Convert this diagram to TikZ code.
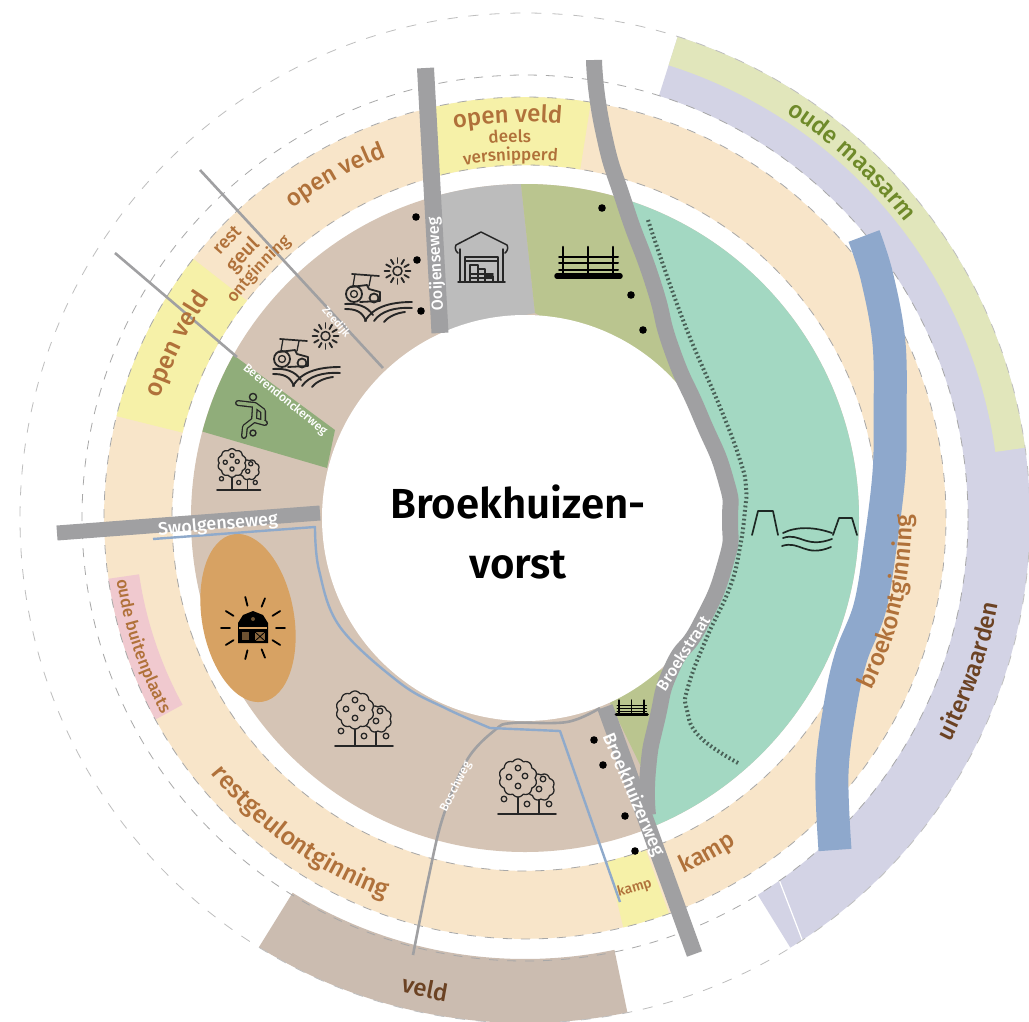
\documentclass[tikz,border=0pt]{standalone}
\usepackage{fontspec}
\setmainfont{Fira Sans Medium}[BoldFont={Fira Sans SemiBold}]
\usetikzlibrary{decorations.text}
\definecolor{cBrown}{HTML}{D5C4B5}
\definecolor{cPeach}{HTML}{F8E5C9}
\definecolor{cYellow}{HTML}{F6F1A8}
\definecolor{cPink}{HTML}{F0C9CF}
\definecolor{cLav}{HTML}{D3D3E5}
\definecolor{cMaas}{HTML}{E1E6BB}
\definecolor{cVeld}{HTML}{CBBCB0}
\definecolor{cTeal}{HTML}{A3D8C2}
\definecolor{cOlive}{HTML}{BAC58F}
\definecolor{cGray}{HTML}{BCBCBC}
\definecolor{cGreen}{HTML}{90AD7A}
\definecolor{cOrange}{HTML}{D7A263}
\definecolor{cRoad}{HTML}{A0A0A2}
\definecolor{cRiver}{HTML}{8EA8CC}
\definecolor{cBlue}{HTML}{8FAACB}
\definecolor{cDash}{HTML}{A8A8A8}
\definecolor{cTxt}{HTML}{B0713A}
\definecolor{cDark}{HTML}{6B4223}
\definecolor{cMaasT}{HTML}{6F8A2A}
\definecolor{cIcon}{HTML}{262626}
\def\cx{525}\def\cy{518}
\tikzset{
 ringdash/.style={cDash,line width=0.8pt,dash pattern=on 9pt off 9pt},
 road/.style={cRoad,line width=#1},
 icon/.style={cIcon,line width=1.3pt,line cap=round,line join=round},
 roadlabel/.style={text=white,inner sep=0pt,font=\fontsize{#1}{#1}\selectfont},
 dikeicon/.style={black!70!cTeal!60!black,line width=1.7pt,line cap=round,line join=round}
}
\newcommand{\ringsec}[5]{\fill[#1] plot[domain=#4:#5,samples=100] ({\cx+#3*cos(\x)},{\cy+#3*sin(\x)}) -- plot[domain=#5:#4,samples=100] ({\cx+#2*cos(\x)},{\cy+#2*sin(\x)}) -- cycle;}
\newcommand{\arctext}[6]{\path[decorate,decoration={text along path,text align=center,text={|\fontsize{#4}{#4}\selectfont\color{#5}|#6}}] ({\cx+#3*cos(#1)},{\cy+#3*sin(#1)}) arc[start angle={-(#1)},end angle={-(#2)},radius=#3pt];}
\newcommand{\treeicon}[3]{\begin{scope}[shift={(#1,#2)},scale=#3,icon]
 \draw[fill=cBrown] plot[domain=0:360,samples=140] ({43+(12+1.6*abs(sin(4*\x)))*cos(\x)},{29+(12+1.6*abs(sin(4*\x)))*sin(\x)}) -- cycle;
 \draw[fill=cBrown] plot[domain=0:360,samples=180] ({20+(17+2*abs(sin(5*\x)))*cos(\x)},{20+(17+2*abs(sin(5*\x)))*sin(\x)}) -- cycle;
 \foreach \a/\b in {20/10,11/19,27/18,20/28,45/21,41/31,6/41,29/46,51/46}{\draw (\a,\b) circle[radius=2.8pt];}
 \draw (20,39) -- (20,55) (41,42) -- (41,55);
 \draw[line width=1.6pt] (0,56) -- (58,56);
\end{scope}}
\newcommand{\tractoricon}[2]{\begin{scope}[shift={(#1,#2)},icon]
 \draw[line width=1.7pt] (7,1) -- (34,3);
 \draw (10,1) -- (8,13) (26,3) -- (24,13);
 \draw[line width=1.8pt] (6,14) -- (22,12) -- (24,16) -- (35,19) -- (35,28) -- (15,29);
 \draw[line width=1.8pt] (9,21) circle[radius=8pt];
 \draw (9,21) circle[radius=3.5pt];
 \draw[line width=1.8pt] (29,25) circle[radius=4.5pt];
 \draw[line width=1.9pt] (0,31) .. controls (12,30) and (22,33) .. (28,42);
 \draw[line width=1.9pt] (0,36) .. controls (10,36) and (17,38) .. (21,48);
 \draw[line width=1.9pt] (20,48) .. controls (28,34) and (45,29) .. (67,29);
 \draw[line width=1.9pt] (29,48) .. controls (36,38) and (50,34) .. (67,35);
 \draw[line width=1.9pt] (39,49) .. controls (44,43) and (52,40) .. (60,39);
 \draw[line width=1.5pt] (52.5,-2) circle[radius=4.5pt];
 \foreach \t in {0,30,...,330}{\draw[line width=1.9pt] ({52.5+8*cos(\t)},{-2+8*sin(\t)}) -- ({52.5+13*cos(\t)},{-2+13*sin(\t)});}
\end{scope}}
\newcommand{\fenceicon}[3]{\begin{scope}[shift={(#1,#2)},scale=#3,line cap=round]
 \foreach \a in {8,33,58}{\draw[black,line width=#3*2.6pt] (\a,0) -- (\a,28);}
 \foreach \b in {10,16,23}{\draw[black,line width=#3*2pt] (4,\b) -- (63,\b);}
 \draw[black,line width=#3*5.5pt] (2,29) -- (65,29);
\end{scope}}
\begin{document}
\begin{tikzpicture}[x=1pt,y=-1pt]
\useasboundingbox (0,0) rectangle (1029,1021);
\fill[white] (0,0) rectangle (1029,1021);
% peach ring
\ringsec{cPeach}{353}{421}{0}{360}
\ringsec{cYellow}{353}{421}{-104}{-81}
\ringsec{cYellow}{353}{421}{-166}{-142}
\ringsec{cYellow}{353}{421}{70}{76.5}
\ringsec{cPink}{390}{421}{151.4}{171.7}
\draw[ringdash] (\cx,\cy) circle[radius=353pt];
\draw[ringdash] (\cx,\cy) circle[radius=421pt];
% outer bands
\ringsec{cLav}{443}{505}{-72.4}{58.3}
\ringsec{cMaas}{475}{505}{-72.4}{-8}
\ringsec{cVeld}{441}{505}{78.3}{121.8}
\coordinate (gapA) at (778,877);
\coordinate (gapB) at (803,942);
\draw[white,line width=1.2pt] (gapA) -- (gapB);
\draw[ringdash] (\cx,\cy) circle[radius=443pt];
\draw[cDash!75!white,line width=0.8pt,dash pattern=on 10pt off 11pt] (\cx,\cy) circle[radius=505pt];
% river
\draw[cRiver,line width=33pt] plot[smooth,tension=0.6] coordinates {(864,236) (877,277) (889,343) (890,420) (889,473) (881,540) (870,607) (851,657) (840,707) (832,773) (835,850)};
% inner ring
\fill[cBrown] (\cx,\cy) circle[radius=334pt];
\fill[cGray] plot[domain=-107:-90.7,samples=30] ({\cx+334*cos(\x)},{\cy+334*sin(\x)}) -- (535,313) -- (440,333) -- cycle;
\fill[cOlive] plot[domain=-90.7:-73,samples=30] ({\cx+334*cos(\x)},{\cy+334*sin(\x)}) -- (653,283) -- (672,350) -- (690,400) -- (535,313) -- cycle;
\fill[cTeal] plot[smooth,tension=1] coordinates {(625,205) (653,283) (672,350) (700,415) (725,477) (730,520) (725,565) (700,625) (672,668) (657,720) (648,770) (648,815)} -- plot[domain=68:-73,samples=100] ({\cx+334*cos(\x)},{\cy+334*sin(\x)}) -- cycle;
\fill[cOlive] (667,667) -- (640,680) -- (610,703) -- (645,775) -- (661,700) -- cycle;
\fill[cGreen] plot[domain=-150.8:-165,samples=20] ({\cx+334*cos(\x)},{\cy+334*sin(\x)}) -- (327,468) -- (335,430) -- cycle;
\fill[white] (\cx,\cy) circle[radius=203pt];
\fill[cOrange,shift={(248,618)},rotate=10] (0,0) ellipse[x radius=46pt,y radius=85pt];
% dike dashes
\draw[black!55!cTeal,line width=4pt,dash pattern=on 1.8pt off 2.6pt] plot[smooth,tension=0.8] coordinates {(648,220) (683,320) (720,407) (740,460) (746,487) (745,510) (740,547) (730,587) (707,637) (688,687) (687,710) (700,737) (738,763)};
% roads
\draw[road=17pt] (425.5,68) -- (440,333);
\draw[road=16pt] (605,707) -- (694.5,954);
\draw[road=16pt] plot[smooth,tension=1] coordinates {(594,60) (603,130) (625,205) (653,283) (672,350) (700,415) (725,477) (730,520) (725,565) (700,625) (672,668) (657,720) (648,770) (648,815)};
\draw[road=15pt] (57,533) -- (320,513);
\draw[road=2.6pt] (115,253) -- (237,357);
\draw[road=2.6pt] (200,170) -- (383,368);
\draw[road=2.6pt] plot[smooth,tension=0.6] coordinates {(413,955) (428,880) (443,817) (467,760) (495,730) (512,723) (567,722) (600,708)};
% blue line
\draw[cBlue,line width=2.4pt,line join=round] (153,539) -- (315,527) -- plot[smooth,tension=0.6] coordinates {(315,527) (319,570) (340,627) (400,683) (445,708) (490,728)} -- (560,731) -- (620,902);
% dots
\foreach \a/\b in {416/217,417/260,421/311,602/208,631/295,643/330,594/740,603/765,625/816,635/851}{\fill[black] (\a,\b) circle[radius=3.8pt];}
% ring labels
\arctext{-131}{-107}{387}{24}{cTxt}{open veld}
\arctext{-170}{-137}{384}{25}{cTxt}{open veld}
\arctext{-145}{-129}{402}{18}{cTxt}{rest}
\arctext{-146}{-128}{380}{20}{cTxt}{geul}
\arctext{-155}{-119}{361}{17}{cTxt}{ontginning}
\arctext{-107}{-78}{396}{24}{cTxt}{open veld}
\arctext{-102.3}{-82.3}{376}{17}{cTxt}{deels}
\arctext{-107.3}{-77.3}{358}{17}{cTxt}{versnipperd}
\arctext{-60}{-35}{482}{24}{cMaasT}{oude maasarm}
\arctext{32}{-6}{387}{24}{cTxt}{broekontginning}
\arctext{33}{5}{481}{24}{cDark}{uiterwaarden}
\arctext{75}{48}{389}{24}{cTxt}{kamp}
\arctext{82}{65}{390}{14}{cTxt}{kamp}
\arctext{145}{106}{405}{25}{cTxt}{restgeulontginning}
\arctext{175}{148}{413}{17}{cTxt}{oude buitenplaats}
\arctext{112}{92}{490}{24}{cDark}{veld}
% road labels
\node[roadlabel=16,rotate=93] (lOoij) at (436,264) {Ooijenseweg};
\node[roadlabel=16,rotate=57.5] (lBroek) at (683,653) {Broekstraat};
\node[roadlabel=18,rotate=-66.8] (lBhz) at (633,795) {Broekhuizerweg};
\node[roadlabel=18,rotate=5] (lSwol) at (218,525) {Swolgenseweg};
\node[roadlabel=12,rotate=63] (lBos) at (456,787) {Boschweg};
\node[roadlabel=11,rotate=-49] (lZee) at (336,322) {Zeedijk};
\node[roadlabel=12,rotate=-39.5] (lBeer) at (285,400) {Beerendonckerweg};
% title
\node[align=center,font=\fontsize{42}{60}\selectfont\bfseries,text=black,inner sep=0pt] (title) at (518,532) {Broekhuizen-\\vorst};
% icons
\tractoricon{345}{273}
\tractoricon{273}{338}
\treeicon{217}{448}{0.75}
\treeicon{335}{690}{1}
\treeicon{498}{758}{1}
\fenceicon{555}{247}{1}
\fenceicon{615}{700}{0.5}
% warehouse
\begin{scope}[shift={(455,232)},icon,line width=1.5pt]
 \draw (3,21) .. controls (0,19) and (0,15) .. (1,13) -- (26,0) -- (52,13) .. controls (53,15) and (53,19) .. (50,21);
 \draw (5,17) -- (5,50) (48,17) -- (48,50) (3,50) -- (50,50);
 \draw (10,50) -- (10,25) -- (43,25) -- (43,50);
 \draw (10,29) -- (43,29);
 \draw (15,33) rectangle (23,50) (15,42) -- (38,42) (23,37) -- (30,37) -- (30,50) (30,44) -- (38,44) -- (38,50) (15,46) -- (38,46);
\end{scope}
% runner
\begin{scope}[line cap=round,line join=round]
 \draw[cIcon,line width=6pt] (238,403) -- (255,405) -- (263,411) -- (263,420) (255,405) -- (254,420) -- (245,427) -- (244,436) (254,420) -- (265,423);
 \draw[cGreen,line width=3.4pt] (238,403) -- (255,405) -- (263,411) -- (263,420) (255,405) -- (254,420) -- (245,427) -- (244,436) (254,420) -- (265,423);
 \draw[cIcon,line width=1.4pt,fill=cGreen] (253,397) circle[radius=3.6pt];
 \draw[cIcon,line width=1.4pt,fill=cGreen] (253,433) circle[radius=3pt];
\end{scope}
% farm
\begin{scope}[shift={(253,628)}]
 \foreach \t in {-104,-68,-32,0,32,68,104,148,180,212}{\draw[black,line width=1.8pt,line cap=round] ({23*cos(\t)},{23*sin(\t)}) -- ({32*cos(\t)},{32*sin(\t)});}
 \fill[black] (-15,-5) -- (-10,-13) -- (0,-17) -- (10,-13) -- (15,-5) -- (15,15) -- (-15,15) -- cycle;
 \fill[cOrange] (-14,-1) rectangle (14,1);
 \fill[black!50!cOrange] (-11,4) rectangle (-4,12);
 \fill[black!35!cOrange] (2,4) rectangle (12,13);
 \draw[black,line width=0.8pt] (2,4) -- (12,13) (12,4) -- (2,13);
 \fill[black!50!cOrange] (0,-9) circle[radius=2pt];
\end{scope}
% dike and water
\begin{scope}[dikeicon]
 \draw (752,535) -- (758,511) -- (773,511) -- (778,535);
 \draw (833,535) -- (839,518) -- (852,518) -- (857,535);
 \draw (783,533) .. controls (797,526) and (815,527) .. (832,533);
 \draw (783,538) .. controls (800,532) and (805,549) .. (832,539);
 \draw (782,546) .. controls (800,540) and (805,558) .. (831,547);
\end{scope}
\end{tikzpicture}
\end{document}
